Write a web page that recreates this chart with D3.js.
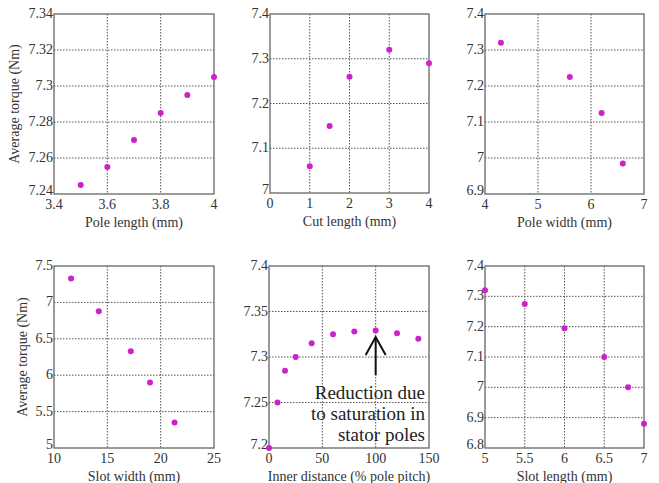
<!DOCTYPE html>
<html>
<head>
<meta charset="utf-8">
<script src="https://cdn.jsdelivr.net/npm/d3@7"></script>
<style>
body { margin: 0; background: #fff; }
svg { display: block; }
</style>
</head>
<body>
<svg id="chart" width="659" height="483" style="font-family: 'Liberation Serif', 'DejaVu Serif', serif;"></svg>
<script>
// Panel data
const poleLengthX = [3.5, 3.6, 3.7, 3.8, 3.9, 4.0];
const poleLengthY = [7.245, 7.255, 7.27, 7.285, 7.295, 7.305];

const cutLengthX = [1, 1.5, 2, 3, 4];
const cutLengthY = [7.06, 7.15, 7.26, 7.32, 7.29];

const poleWidthX = [4.3, 5.6, 6.2, 6.6];
const poleWidthY = [7.32, 7.225, 7.125, 6.985];

const slotWidthX = [11.6, 14.2, 17.2, 19.0, 21.3];
const slotWidthY = [7.33, 6.88, 6.33, 5.9, 5.35];

const innerDistX = [0, 8, 15, 25, 40, 60, 80, 100, 120, 140];
const innerDistY = [7.2, 7.25, 7.285, 7.3, 7.315, 7.325, 7.328, 7.329, 7.326, 7.32];

const slotLengthX = [5, 5.5, 6, 6.5, 6.8, 7];
const slotLengthY = [7.32, 7.275, 7.195, 7.1, 7.0, 6.88];

// Tick labels
const ticksX1 = ["3.4", "3.6", "3.8", "4"];
const ticksY1 = ["7.24", "7.26", "7.28", "7.3", "7.32", "7.34"];
const ticksX2 = ["0", "1", "2", "3", "4"];
const ticksY2 = ["7", "7.1", "7.2", "7.3", "7.4"];
const ticksX3 = ["4", "5", "6", "7"];
const ticksY3 = ["6.9", "7", "7.1", "7.2", "7.3", "7.4"];
const ticksX4 = ["10", "15", "20", "25"];
const ticksY4 = ["5", "5.5", "6", "6.5", "7", "7.5"];
const ticksX5 = ["0", "50", "100", "150"];
const ticksY5 = ["7.2", "7.25", "7.3", "7.35", "7.4"];
const ticksX6 = ["5", "5.5", "6", "6.5", "7"];
const ticksY6 = ["6.8", "6.9", "7", "7.1", "7.2", "7.3", "7.4"];

const xLabels = ["Pole length (mm)", "Cut length (mm)", "Pole width (mm)",
                 "Slot width (mm)", "Inner distance (% pole pitch)", "Slot length (mm)"];
const yLabel = "Average torque (Nm)";
const annotationLines = ["Reduction due", "to saturation in", "stator poles"];

const svg = d3.select("#chart");
const FONT = "'Liberation Serif', 'DejaVu Serif', serif";

const panels = [
  {x: poleLengthX, y: poleLengthY, tx: ticksX1, ty: ticksY1, xl: xLabels[0], yl: true,
   box: [54, 14, 214, 194], lx: 19},
  {x: cutLengthX, y: cutLengthY, tx: ticksX2, ty: ticksY2, xl: xLabels[1], yl: false,
   box: [270, 14, 429, 193]},
  {x: poleWidthX, y: poleWidthY, tx: ticksX3, ty: ticksY3, xl: xLabels[2], yl: false,
   box: [485, 14, 644, 194]},
  {x: slotWidthX, y: slotWidthY, tx: ticksX4, ty: ticksY4, xl: xLabels[3], yl: true,
   box: [54, 266, 214, 448], lx: 27},
  {x: innerDistX, y: innerDistY, tx: ticksX5, ty: ticksY5, xl: xLabels[4], yl: false,
   box: [269, 266, 429, 448], annot: true},
  {x: slotLengthX, y: slotLengthY, tx: ticksX6, ty: ticksY6, xl: xLabels[5], yl: false,
   box: [485, 266, 644, 448]}
];

panels.forEach(p => {
  const [x0, y0, x1, y1] = p.box;
  const txv = p.tx.map(Number), tyv = p.ty.map(Number);
  const xs = d3.scaleLinear().domain([txv[0], txv[txv.length - 1]]).range([x0, x1]);
  const ys = d3.scaleLinear().domain([tyv[0], tyv[tyv.length - 1]]).range([y1, y0]);
  const g = svg.append("g").attr("font-family", FONT).attr("fill", "#333");

  // grid
  g.selectAll(".gx").data(txv.slice(1, -1)).enter().append("line")
    .attr("x1", d => xs(d)).attr("x2", d => xs(d)).attr("y1", y0).attr("y2", y1)
    .attr("stroke", "#555").attr("stroke-width", 1).attr("stroke-dasharray", "1.5,1.5");
  g.selectAll(".gy").data(tyv.slice(1, -1)).enter().append("line")
    .attr("y1", d => ys(d)).attr("y2", d => ys(d)).attr("x1", x0).attr("x2", x1)
    .attr("stroke", "#555").attr("stroke-width", 1).attr("stroke-dasharray", "1.5,1.5");

  // box
  g.append("rect").attr("x", x0).attr("y", y0).attr("width", x1 - x0).attr("height", y1 - y0)
    .attr("fill", "none").attr("stroke", "#666").attr("stroke-width", 1.3);

  // tick labels
  g.selectAll(".tx").data(p.tx).enter().append("text")
    .attr("x", d => xs(+d)).attr("y", y1 + 15)
    .attr("font-family", FONT).attr("fill", "#333")
    .attr("text-anchor", "middle").attr("font-size", 14).text(d => d);
  g.selectAll(".ty").data(p.ty).enter().append("text")
    .attr("x", x0 - 1).attr("y", (d, i) => ys(+d) + (i === 0 ? 1 : 4))
    .attr("font-family", FONT).attr("fill", "#333")
    .attr("text-anchor", "end").attr("font-size", 14).text(d => d);

  // x label
  g.append("text").attr("x", (x0 + x1) / 2).attr("y", y1 + 33)
    .attr("font-family", FONT).attr("fill", "#333")
    .attr("text-anchor", "middle").attr("font-size", 14).text(p.xl);

  if (p.yl) {
    g.append("text")
      .attr("transform", `translate(${p.lx},${(y0 + y1) / 2}) rotate(-90)`)
      .attr("font-family", FONT).attr("fill", "#333")
      .attr("text-anchor", "middle").attr("font-size", 14).text(yLabel);
  }

  // points
  g.selectAll(".pt").data(p.x.map((v, i) => [v, p.y[i]])).enter().append("circle")
    .attr("cx", d => xs(d[0])).attr("cy", d => ys(d[1])).attr("r", 3)
    .attr("fill", "#cc22cc");

  if (p.annot) {
    const ax = xs(100);
    const tipY = ys(7.322), tailY = ys(7.28);
    g.append("line").attr("x1", ax).attr("x2", ax).attr("y1", tailY).attr("y2", tipY)
      .attr("stroke", "#111").attr("stroke-width", 2);
    g.append("polyline")
      .attr("points", `${ax - 10},${tipY + 18} ${ax},${tipY} ${ax + 10},${tipY + 18}`)
      .attr("fill", "none").attr("stroke", "#111").attr("stroke-width", 2);
    g.selectAll(".an").data(annotationLines).enter().append("text")
      .attr("x", x1 - 4).attr("y", (d, i) => ys(7.254) + i * 21)
      .attr("font-family", FONT).attr("fill", "#222")
      .attr("text-anchor", "end").attr("font-size", 19).text(d => d);
  }
});
</script>
</body>
</html>
